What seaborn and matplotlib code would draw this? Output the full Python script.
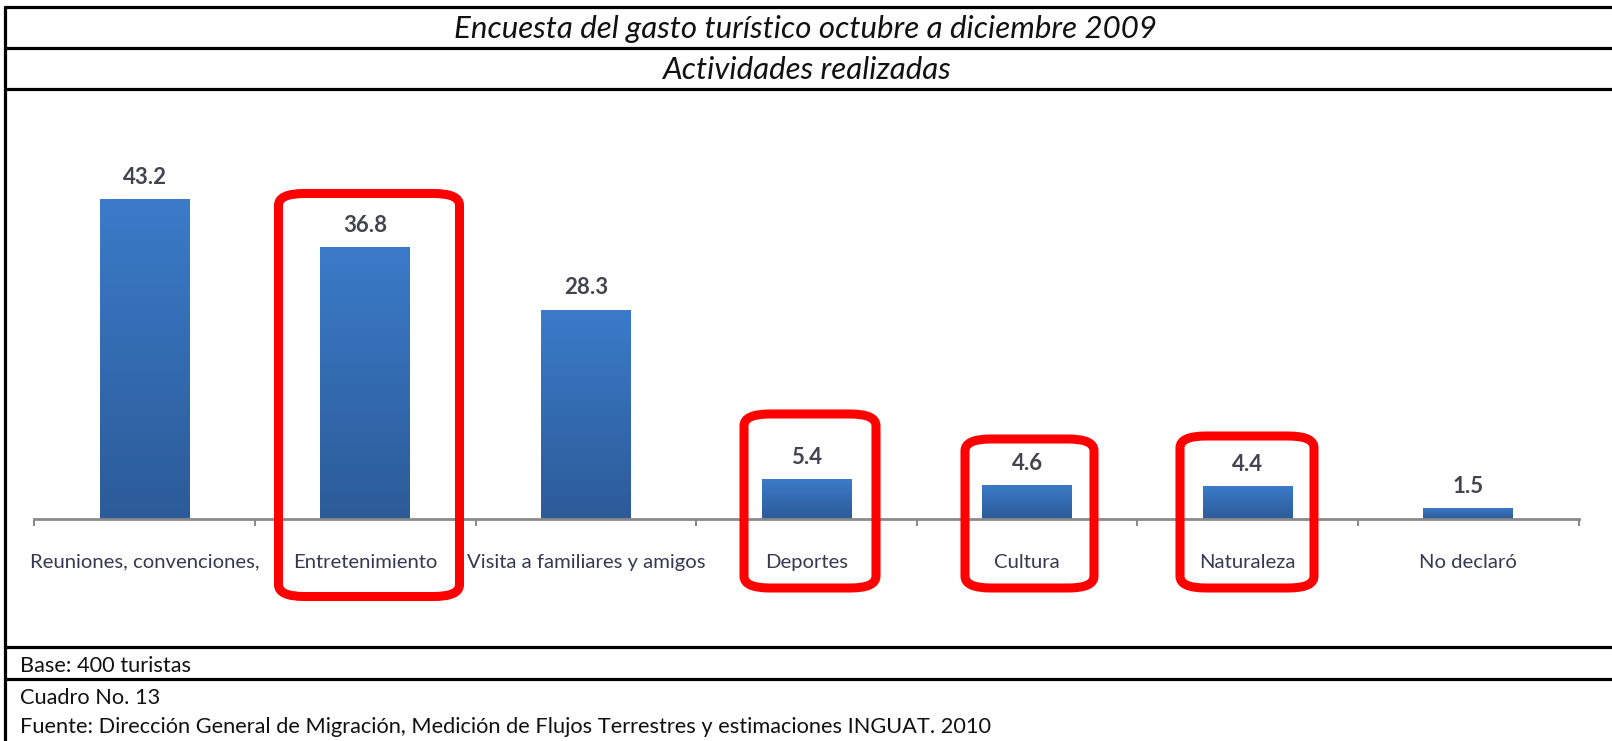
import numpy as np
import pandas as pd
import matplotlib
matplotlib.use("Agg")
import matplotlib.pyplot as plt
import seaborn as sns
from matplotlib.patches import FancyBboxPatch
from matplotlib.lines import Line2D
from matplotlib.colors import LinearSegmentedColormap

# ---- data ----
categories = ["Reuniones, convenciones,", "Entretenimiento", "Visita a familiares y amigos",
              "Deportes", "Cultura", "Naturaleza", "No declaró"]
values = [43.2, 36.8, 28.3, 5.4, 4.6, 4.4, 1.5]
highlighted = ["Entretenimiento", "Deportes", "Cultura", "Naturaleza"]
title = "Encuesta del gasto turístico octubre a diciembre 2009"
subtitle = "Actividades realizadas"
footer_lines = ["Base: 400 turistas",
                "Cuadro No. 13",
                "Fuente: Dirección General de Migración, Medición de Flujos Terrestres y estimaciones INGUAT. 2010"]

sns.set_theme(style="white")
plt.rcParams['font.family'] = ['Lato', 'DejaVu Sans']

W, H = 1612, 741
fig = plt.figure(figsize=(W / 100, H / 100), dpi=100)
fig.patch.set_facecolor("white")

# axes placement (pixels)
ax_left, ax_right, ax_base, ax_top = 34.5, 1578.5, 519, 130
px_per_unit = 7.4
ax = fig.add_axes([ax_left / W, (H - ax_base) / H, (ax_right - ax_left) / W, (ax_base - ax_top) / H])

df = pd.DataFrame({"actividad": categories, "pct": values})
sns.barplot(data=df, x="actividad", y="pct", color="#3568b0", width=0.407,
            saturation=1, ax=ax, zorder=2)

# gradient fill on bars
cmap = LinearSegmentedColormap.from_list("barg", ["#2c5b98", "#3b7bc9"])
grad = np.linspace(0, 1, 256).reshape(-1, 1)
for p in ax.patches:
    x0, y0, w, h = p.get_x(), p.get_y(), p.get_width(), p.get_height()
    im = ax.imshow(grad, extent=[x0, x0 + w, y0, y0 + h], aspect="auto", cmap=cmap,
                   origin="lower", zorder=2.5)
    im.set_clip_path(p)

ax.set_xlim(-0.5, len(categories) - 0.5)
ax.set_ylim(0, (ax_base - ax_top) / px_per_unit)

ax.bar_label(ax.containers[0], fmt="%.1f", padding=8, fontsize=16, fontweight="bold",
             color="#444450", zorder=3)

ax.set_xlabel("")
ax.set_ylabel("")
ax.set_yticks([])
ax.set_xticks(np.arange(-0.5, len(categories), 1), minor=True)
ax.tick_params(axis="x", which="major", bottom=True, length=0, pad=25, labelsize=14.6,
               labelcolor="#383852")
ax.tick_params(axis="x", which="minor", bottom=True, length=5, width=1.5, color="#8a8a8a",
               direction="out")
sns.despine(ax=ax, left=True)
ax.spines["bottom"].set_color("#8a8a8a")
ax.spines["bottom"].set_linewidth(2)
ax.set_facecolor("none")

# ---- table frame ----
def hline(y):
    fig.add_artist(Line2D([5 / W, 1.0], [1 - y / H, 1 - y / H], transform=fig.transFigure,
                          color="black", lw=2.3))

for yy in [7, 48, 89, 647, 679]:
    hline(yy)
fig.add_artist(Line2D([5 / W, 5 / W], [1 - 7 / H, 0], transform=fig.transFigure,
                      color="black", lw=2.3))

fig.text(806 / W, 1 - 29 / H, title, ha="center", va="center", fontsize=22.5,
         fontweight="normal", style="italic", color="#111111")
fig.text(806 / W, 1 - 70 / H, subtitle, ha="center", va="center", fontsize=22.5,
         fontweight="normal", style="italic", color="#111111")
for txt, yy in zip(footer_lines, [666, 698, 727]):
    fig.text(20 / W, 1 - yy / H, txt, ha="left", va="center", fontsize=15.7, color="#111111")

# ---- red highlight boxes (pixel coords, top-origin) ----
boxes = {
    "Entretenimiento": (278.5, 193.5, 459.5, 596.5),
    "Deportes": (744, 414, 876, 588),
    "Cultura": (965, 439, 1094, 588),
    "Naturaleza": (1180, 436, 1314, 588),
}
for name in highlighted:
    x0, y0, x1, y1 = boxes[name]
    fig.add_artist(FancyBboxPatch((x0 / W, 1 - y1 / H), (x1 - x0) / W, (y1 - y0) / H,
                                  boxstyle="round,pad=0,rounding_size=0.016",
                                  transform=fig.transFigure, fill=False,
                                  edgecolor="#ff0000", lw=6.5, zorder=10))

fig.savefig("out.png", dpi=100)
